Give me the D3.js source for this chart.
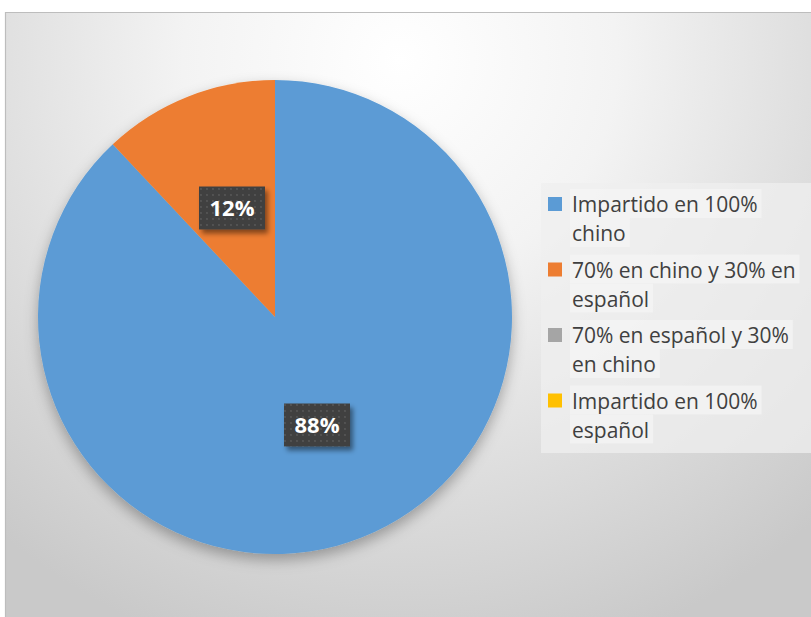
<!DOCTYPE html>
<html>
<head>
<meta charset="utf-8">
<script src="https://cdn.jsdelivr.net/npm/d3@7"></script>
<style>
  html, body { margin: 0; padding: 0; background: #ffffff; }
  svg { display: block; }
</style>
</head>
<body>
<script>
// Teaching language distribution
const categories = [
  "Impartido en 100% chino",
  "70% en chino y 30% en español",
  "70% en español y 30% en chino",
  "Impartido en 100% español"
];
const values = [88, 12, 0, 0];
const colors = ["#5b9bd5", "#ed7d31", "#a5a5a5", "#ffc000"];
const legendLines = [
  ["Impartido en 100%", "chino"],
  ["70% en chino y 30% en", "español"],
  ["70% en español y 30%", "en chino"],
  ["Impartido en 100%", "español"]
];

const W = 811, H = 617;
const svg = d3.select("body").append("svg").attr("width", W).attr("height", H);
const defs = svg.append("defs");

// chart area background
const bg = defs.append("radialGradient").attr("id", "bg")
  .attr("gradientUnits", "userSpaceOnUse")
  .attr("cx", 400).attr("cy", 60).attr("r", 620)
  .attr("fx", 400).attr("fy", 60);
bg.append("stop").attr("offset", "0%").attr("stop-color", "#ffffff");
bg.append("stop").attr("offset", "35%").attr("stop-color", "#f3f3f3");
bg.append("stop").attr("offset", "100%").attr("stop-color", "#c9c9c9");

const shadow = defs.append("filter").attr("id", "pieShadow")
  .attr("x", "-20%").attr("y", "-20%").attr("width", "140%").attr("height", "140%");
shadow.append("feDropShadow").attr("dx", 0).attr("dy", 6).attr("stdDeviation", 7)
  .attr("flood-color", "#000").attr("flood-opacity", 0.3);

const lblShadow = defs.append("filter").attr("id", "lblShadow")
  .attr("x", "-30%").attr("y", "-30%").attr("width", "160%").attr("height", "160%");
lblShadow.append("feDropShadow").attr("dx", 3).attr("dy", 4).attr("stdDeviation", 2.5)
  .attr("flood-color", "#000").attr("flood-opacity", 0.45);

// dotted texture for the data label boxes
const pat = defs.append("pattern").attr("id", "dots")
  .attr("width", 6).attr("height", 6).attr("patternUnits", "userSpaceOnUse");
pat.append("rect").attr("width", 6).attr("height", 6).attr("fill", "#3f3f3f");
pat.append("circle").attr("cx", 3).attr("cy", 3).attr("r", 0.9).attr("fill", "#5a5a5a");

svg.append("rect").attr("x", 5).attr("y", 12).attr("width", W - 5).attr("height", H - 12)
  .attr("fill", "url(#bg)");
svg.append("path").attr("d", `M5.5,${H} V12.5 H${W}`)
  .attr("fill", "none").attr("stroke", "#bdbdbd").attr("stroke-width", 1.2);

// pie
const cx = 275, cy = 317, R = 237;
const pie = d3.pie().sort(null).value(d => d)(values);
const arc = d3.arc().innerRadius(0).outerRadius(R);
const g = svg.append("g").attr("transform", `translate(${cx},${cy})`);
g.append("g").attr("filter", "url(#pieShadow)")
  .selectAll("path").data(pie.filter(d => d.value > 0)).join("path")
  .attr("d", arc)
  .attr("fill", d => colors[d.index]);

// data labels
const labelPos = [[317, 425], [232, 208]];
const labelFont = "bold 22px 'Open Sans', 'DejaVu Sans', sans-serif";
pie.filter(d => d.value > 0).forEach(d => {
  const [x, y] = labelPos[d.index];
  const lg = svg.append("g");
  const w = 66, h = 43;
  lg.append("rect").attr("x", x - w / 2).attr("y", y - h / 2)
    .attr("width", w).attr("height", h)
    .attr("fill", "url(#dots)").attr("filter", "url(#lblShadow)");
  lg.append("text").attr("x", x).attr("y", y + 8)
    .attr("text-anchor", "middle").attr("fill", "#ffffff")
    .style("font", labelFont)
    .text(d3.format(".0%")(d.value / d3.sum(values)));
});

// legend
const lx = 541, ly = 183;
svg.append("rect").attr("x", lx).attr("y", ly).attr("width", W - lx).attr("height", 270)
  .attr("fill", "#efefef").attr("opacity", 0.75);
const legendFont = "21px 'Open Sans', 'Liberation Sans', sans-serif";
const itemStep = 65.5, lineStep = 29;
categories.forEach((c, i) => {
  const y0 = ly + 21 + i * itemStep;
  const item = svg.append("g");
  item.append("rect").attr("x", lx + 7).attr("y", y0 - 7).attr("width", 14).attr("height", 14)
    .attr("fill", colors[i]);
  legendLines[i].forEach((t, j) => {
    const tx = item.append("text").attr("x", lx + 31).attr("y", y0 + 8 + j * lineStep)
      .attr("fill", "#404040").style("font", legendFont).text(t);
    const bb = tx.node().getBBox();
    item.insert("rect", "text").attr("x", lx + 29).attr("y", y0 - 15 + j * lineStep)
      .attr("width", bb.width + 6).attr("height", lineStep)
      .attr("fill", "#f5f5f5").attr("opacity", 0.7);
  });
});
</script>
</body>
</html>
